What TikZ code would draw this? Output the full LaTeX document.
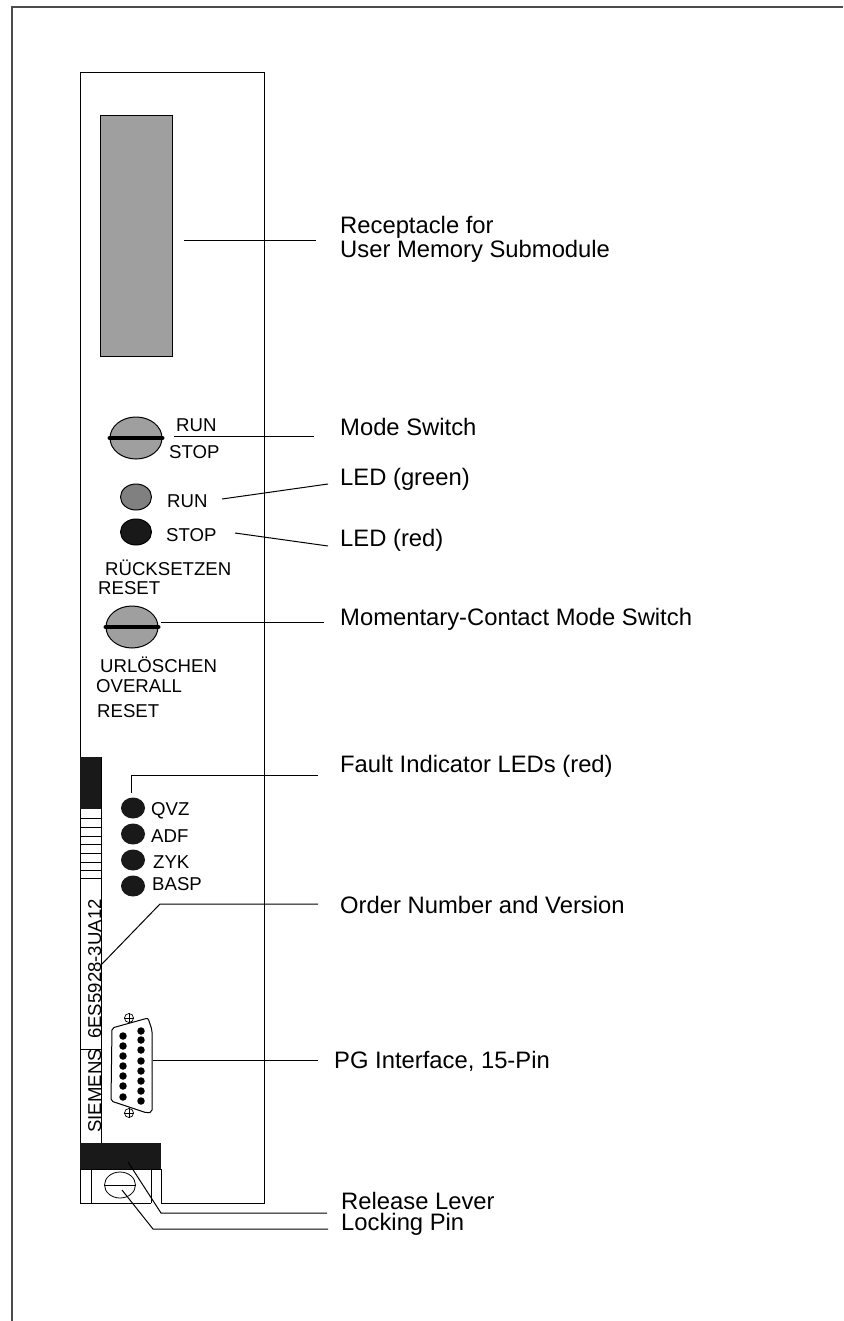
\documentclass[tikz,border=0pt]{standalone}
\usepackage{fontspec}
\setmainfont{Liberation Sans}
\usetikzlibrary{shapes.geometric,positioning}

\begin{document}
\begin{tikzpicture}[
  x=1pt, y=-1pt,
  callout/.style={inner sep=0pt, anchor=base west, font=\fontsize{23.8}{24}\selectfont},
  panel/.style={inner sep=0pt, anchor=base west, font=\fontsize{18.6}{19}\selectfont},
  strip/.style={panel, rotate=90},
  knob/.style={ellipse, draw, line width=1pt, fill=gray!75, inner sep=0pt, minimum width=52pt, minimum height=42pt},
  led/.style={ellipse, draw, line width=1pt, inner sep=0pt, minimum width=31pt, minimum height=26pt},
  faultled/.style={ellipse, fill=black!90, inner sep=0pt, minimum width=24pt, minimum height=21pt},
  bar/.style={line width=4pt, line cap=round},
  pin/.style={circle, fill=black, inner sep=0pt, minimum size=7.5pt},
  screw/.style={circle, draw, inner sep=0pt, minimum size=9pt, line width=.7pt},
  leader/.style={line width=1pt},
  outline/.style={line width=1pt}
]
  \useasboundingbox (0,0) rectangle (843,1321);
  \draw [line width=1.5pt, black!70] (12,1321) -- (12,7) -- (843,7);

  % board
  \draw [outline] (151,1203) -- (80,1203) -- (80,73) -- (264,73) -- (264,1203) -- (161,1203) -- (161,1169);
  \draw [outline] (101,757) -- (101,1143);
  \fill [black!90] (80,757) rectangle (101,809);
  \foreach \y in {818,827,836,844,853,862,870,878}
    \draw [line width=.7pt] (80,\y) -- (101,\y);
  \draw [line width=.7pt] (80,1049) -- (101,1049);
  \node (order) [strip] at (101,1039) {6ES5928-3UA12};
  \node (siemens) [strip] at (101,1133) {SIEMENS};

  \node (memory) [draw, line width=1pt, fill=gray!75, inner sep=0pt, minimum width=72pt, minimum height=240pt] at (136,236) {};

  % switches and leds
  \node (mode) [knob] at (136,438) {};
  \draw [bar] (mode.west) -- (mode.east);
  \node (moderun) [panel] at (176,431) {RUN};
  \node (modestop) [panel] at (169,458) {STOP};
  \node (ledrun) [led, fill=gray] at (136,497) {};
  \node (ledstop) [led, fill=black!90] at (136,532) {};
  \node (runtext) [panel] at (167,507) {RUN};
  \node (stoptext) [panel] at (166,541) {STOP};
  \node (ruecksetzen) [panel] at (105,575) {RÜCKSETZEN};
  \node (reseta) [panel] at (98,594) {RESET};
  \node (momentary) [knob] at (132,627) {};
  \draw [bar] (momentary.west) -- (momentary.east);
  \node (urloeschen) [panel] at (100,672) {URLÖSCHEN};
  \node (overall) [panel] at (96,692) {OVERALL};
  \node (resetb) [panel] at (97,717) {RESET};

  % fault leds
  \node (qvz) [faultled] at (133,808) {};
  \node (adf) [faultled] at (133,834) {};
  \node (zyk) [faultled] at (133,860) {};
  \node (basp) [faultled] at (133,886) {};
  \node (qvztext) [panel] at (151,815) {QVZ};
  \node (adftext) [panel] at (151,842) {ADF};
  \node (zyktext) [panel] at (153,868) {ZYK};
  \node (basptext) [panel] at (152,890) {BASP};

  % connector
  \draw [outline, rounded corners=2pt, fill=white] (112,1028) -- (148,1018) -- (152,1030) -- (152,1112) -- (147,1113) -- (111,1101) -- cycle;
  \foreach \y in {1036,1046,1056,1066,1076,1086,1097}
    \node [pin] at (123,\y) {};
  \foreach \y in {1031,1040,1050,1061,1071,1081,1091,1101}
    \node [pin] at (141,\y) {};
  \node (screwa) [screw] at (129,1018) {};
  \node (screwb) [screw] at (129,1113) {};
  \draw [line width=.7pt] (screwa.west) -- (screwa.east) (screwa.north) -- (screwa.south);
  \draw [line width=.7pt] (screwb.west) -- (screwb.east) (screwb.north) -- (screwb.south);

  % lever
  \fill [black!90] (80,1143) rectangle (161,1169);
  \draw [outline] (80,1169) -- (161,1169);
  \draw [outline] (91,1169) -- (91,1203);
  \draw [outline] (151,1169) -- (151,1203);
  \node (pin) [ellipse, draw, line width=.8pt, inner sep=0pt, minimum width=31pt, minimum height=26pt] at (120,1185) {};
  \draw [line width=.8pt] (pin.west) -- (pin.east);

  % labels
  \node (recepta) [callout] at (340,234) {Receptacle for};
  \node (receptb) [callout] at (340,258) {User Memory Submodule};
  \node (modelabel) [callout] at (340,435) {Mode Switch};
  \node (greenlabel) [callout] at (340,485) {LED (green)};
  \node (redlabel) [callout] at (340,546) {LED (red)};
  \node (momentlabel) [callout] at (340,625) {Momentary-Contact Mode Switch};
  \node (faultlabel) [callout] at (340,772) {Fault Indicator LEDs (red)};
  \node (orderlabel) [callout] at (340,913) {Order Number and Version};
  \node (pglabel) [callout] at (334,1068) {PG Interface, 15-Pin};
  \node (releaselabel) [callout] at (341,1209) {Release Lever};
  \node (lockinglabel) [callout] at (341,1230) {Locking Pin};

  % leaders
  \coordinate (memoryend) at (184,241);
  \coordinate (memorytip) at (316,241);
  \coordinate (modeend) at (174,436);
  \coordinate (modetip) at (314,436);
  \coordinate (greenend) at (222,499);
  \coordinate (greentip) at (328,484);
  \coordinate (redend) at (235,533);
  \coordinate (redtip) at (328,546);
  \coordinate (momentend) at (161,622);
  \coordinate (momenttip) at (324,622);
  \coordinate (faultend) at (131,793);
  \coordinate (faultbend) at (131,775);
  \coordinate (faulttip) at (318,775);
  \coordinate (orderend) at (101,965);
  \coordinate (orderbend) at (160,904);
  \coordinate (ordertip) at (318,904);
  \coordinate (pgend) at (153,1060);
  \coordinate (pgtip) at (318,1060);
  \coordinate (releaseend) at (128,1162);
  \coordinate (releasebend) at (161,1213);
  \coordinate (releasetip) at (327,1213);
  \coordinate (lockingend) at (122,1190);
  \coordinate (lockingbend) at (153,1229);
  \coordinate (lockingtip) at (328,1229);

  \draw [leader] (memoryend) -- (memorytip);
  \draw [leader] (modeend) -- (modetip);
  \draw [leader] (greenend) -- (greentip);
  \draw [leader] (redend) -- (redtip);
  \draw [leader] (momentend) -- (momenttip);
  \draw [leader] (faultend) -- (faultbend) -- (faulttip);
  \draw [leader] (orderend) -- (orderbend) -- (ordertip);
  \draw [leader] (pgend) -- (pgtip);
  \draw [leader] (releaseend) -- (releasebend) -- (releasetip);
  \draw [leader] (lockingend) -- (lockingbend) -- (lockingtip);
\end{tikzpicture}
\end{document}
